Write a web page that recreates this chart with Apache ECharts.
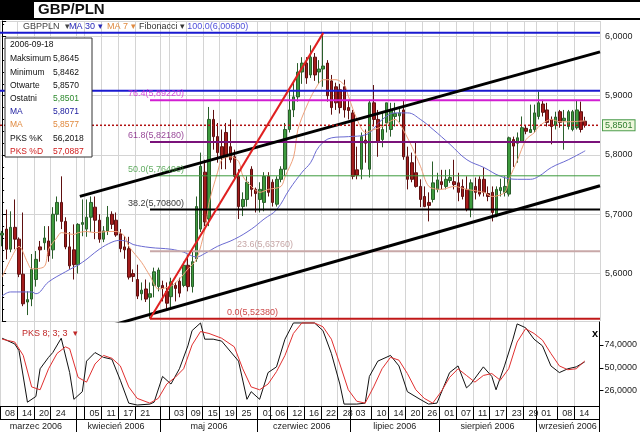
<!DOCTYPE html>
<html><head><meta charset="utf-8">
<script src="https://cdn.jsdelivr.net/npm/echarts@6/dist/echarts.min.js"></script>
<style>html,body{margin:0;padding:0;background:#fff}#c{width:640px;height:432px}</style>
</head><body><div id="c"></div>
<script>
// ---------- DATA ----------
const firstDay = '2006-03-08';
const nCategories = 142;
const categories = [];
(function(){const d=new Date(firstDay+'T00:00:00Z');while(categories.length<nCategories){const w=d.getUTCDay();if(w!==0&&w!==6)categories.push(d.toISOString().slice(0,10));d.setUTCDate(d.getUTCDate()+1);}})();

const openP = [5.665,5.675,5.641,5.678,5.658,5.599,5.552,5.557,5.590,5.645,
5.652,5.655,5.640,5.700,5.720,5.688,5.645,5.640,5.615,5.683,
5.675,5.695,5.712,5.690,5.658,5.672,5.700,5.690,5.667,5.645,
5.642,5.600,5.590,5.566,5.574,5.560,5.580,5.578,5.580,5.570,
5.561,5.580,5.587,5.580,5.614,5.578,5.625,5.675,5.771,5.692,
5.860,5.831,5.814,5.838,5.814,5.797,5.764,5.713,5.725,5.776,
5.742,5.725,5.720,5.764,5.754,5.717,5.759,5.776,5.843,5.876,
5.898,5.940,5.955,5.935,5.965,5.940,5.945,5.955,5.925,5.915,
5.910,5.915,5.880,5.871,5.775,5.776,5.825,5.776,5.888,5.860,
5.826,5.854,5.843,5.865,5.866,5.876,5.797,5.787,5.770,5.747,
5.730,5.720,5.725,5.742,5.755,5.747,5.757,5.755,5.753,5.747,
5.742,5.708,5.747,5.759,5.759,5.735,5.737,5.697,5.740,5.737,
5.734,5.826,5.820,5.823,5.845,5.838,5.843,5.865,5.886,5.876,
5.860,5.850,5.873,5.858,5.848,5.843,5.846,5.873,5.8570];
const highP = [5.672,5.708,5.705,5.725,5.661,5.703,5.570,5.633,5.638,5.655,
5.680,5.680,5.712,5.730,5.764,5.695,5.670,5.683,5.685,5.725,
5.725,5.730,5.730,5.700,5.680,5.714,5.705,5.703,5.675,5.663,
5.662,5.607,5.615,5.585,5.590,5.585,5.610,5.610,5.588,5.585,
5.593,5.585,5.593,5.620,5.632,5.637,5.730,5.804,5.792,5.881,
5.876,5.854,5.843,5.854,5.860,5.809,5.776,5.737,5.764,5.781,
5.745,5.754,5.771,5.771,5.759,5.764,5.781,5.854,5.910,5.924,
5.955,5.965,5.965,5.985,5.972,5.960,6.006,5.960,5.935,5.922,
5.920,5.927,5.893,5.876,5.814,5.838,5.843,5.893,5.918,5.876,
5.871,5.888,5.888,5.888,5.881,5.893,5.814,5.804,5.821,5.759,
5.747,5.737,5.789,5.770,5.775,5.775,5.776,5.792,5.770,5.759,
5.764,5.759,5.762,5.764,5.779,5.747,5.747,5.747,5.760,5.764,
5.831,5.831,5.838,5.865,5.850,5.885,5.885,5.907,5.893,5.888,
5.865,5.873,5.876,5.876,5.876,5.876,5.893,5.890,5.8645];
const lowP = [5.646,5.624,5.636,5.641,5.594,5.545,5.530,5.545,5.578,5.620,
5.640,5.620,5.625,5.688,5.675,5.641,5.608,5.590,5.600,5.663,
5.662,5.670,5.658,5.652,5.653,5.665,5.675,5.662,5.636,5.625,
5.590,5.586,5.557,5.555,5.552,5.524,5.560,5.570,5.553,5.537,
5.543,5.553,5.560,5.577,5.570,5.568,5.620,5.670,5.680,5.680,
5.809,5.787,5.776,5.776,5.787,5.759,5.692,5.697,5.713,5.730,
5.703,5.703,5.705,5.730,5.713,5.713,5.754,5.765,5.838,5.864,
5.890,5.920,5.920,5.930,5.925,5.920,5.915,5.890,5.868,5.876,
5.870,5.863,5.860,5.759,5.759,5.759,5.787,5.762,5.848,5.797,
5.813,5.838,5.831,5.848,5.855,5.792,5.742,5.754,5.745,5.712,
5.712,5.688,5.720,5.737,5.742,5.742,5.753,5.742,5.722,5.725,
5.705,5.695,5.725,5.730,5.730,5.722,5.688,5.695,5.730,5.730,
5.730,5.780,5.787,5.821,5.835,5.838,5.838,5.860,5.865,5.848,
5.818,5.843,5.846,5.809,5.843,5.840,5.843,5.838,5.8462];
const closeP = [5.668,5.641,5.678,5.658,5.599,5.549,5.556,5.607,5.624,5.640,
5.660,5.630,5.700,5.720,5.688,5.645,5.613,5.615,5.683,5.686,
5.695,5.720,5.690,5.658,5.672,5.695,5.683,5.665,5.642,5.640,
5.594,5.595,5.562,5.572,5.557,5.566,5.603,5.606,5.575,5.550,
5.586,5.575,5.567,5.614,5.578,5.620,5.713,5.781,5.687,5.860,
5.831,5.804,5.797,5.797,5.792,5.764,5.713,5.725,5.754,5.742,
5.735,5.742,5.764,5.737,5.720,5.759,5.776,5.843,5.876,5.898,
5.940,5.955,5.930,5.965,5.935,5.945,5.950,5.900,5.880,5.888,
5.880,5.876,5.875,5.764,5.766,5.831,5.820,5.888,5.860,5.823,
5.843,5.888,5.876,5.870,5.871,5.797,5.759,5.759,5.747,5.725,
5.713,5.715,5.753,5.758,5.750,5.759,5.762,5.750,5.737,5.730,
5.708,5.753,5.737,5.734,5.737,5.730,5.703,5.742,5.745,5.747,
5.829,5.815,5.829,5.846,5.840,5.843,5.871,5.888,5.872,5.855,
5.848,5.864,5.855,5.862,5.873,5.873,5.876,5.843,5.8501];

// moving averages: [category index, value]
const ma30 = [[0,5.562],[2,5.569],[7,5.569],[8,5.566],[11,5.586],[15,5.603],[19,5.619],[23,5.641],[26,5.653],[28,5.656],[30,5.653],[31,5.649],[35,5.644],[40,5.641],[43,5.636],[46,5.628],[48,5.634],[51,5.646],[55,5.658],[59,5.675],[62,5.692],[65,5.708],[68,5.742],[71,5.771],[73,5.787],[75,5.814],[78,5.829],[82,5.831],[86,5.834],[90,5.860],[93,5.871],[96,5.871],[99,5.860],[102,5.843],[106,5.818],[110,5.792],[114,5.779],[118,5.764],[122,5.759],[125,5.759],[127,5.764],[130,5.779],[134,5.792],[138,5.8071]];
const ma7 = [[0,5.594],[2,5.624],[4,5.646],[6,5.619],[7,5.608],[10,5.612],[11,5.641],[13,5.661],[14,5.669],[17,5.666],[18,5.669],[20,5.671],[22,5.669],[25,5.671],[27,5.671],[29,5.663],[30,5.646],[33,5.619],[35,5.596],[37,5.574],[40,5.579],[42,5.591],[44,5.608],[46,5.624],[48,5.675],[49,5.720],[51,5.771],[52,5.792],[54,5.797],[56,5.789],[57,5.764],[59,5.747],[61,5.737],[63,5.742],[66,5.747],[67,5.764],[69,5.797],[70,5.843],[72,5.881],[74,5.910],[76,5.927],[79,5.927],[81,5.918],[82,5.898],[84,5.860],[86,5.838],[88,5.843],[90,5.848],[93,5.860],[94,5.854],[97,5.814],[99,5.781],[101,5.747],[104,5.742],[107,5.747],[110,5.742],[114,5.737],[116,5.730],[119,5.737],[120,5.759],[122,5.792],[124,5.826],[126,5.838],[127,5.848],[130,5.860],[132,5.856],[134,5.856],[138,5.8577]];

// stochastic (PKS 8;3;3)
const pksK = [[0,81],[3,75],[4,68],[6,14],[8,20],[9,49],[11,61],[12,66],[14,81],[16,45],[17,17],[19,25],[20,57],[22,66],[24,61],[26,59],[28,37],[30,13],[32,11],[35,12],[36,14],[38,41],[40,33],[42,49],[44,73],[45,89],[47,97],[48,80],[50,80],[52,78],[56,57],[58,17],[59,25],[61,17],[63,45],[65,51],[67,80],[69,97],[71,97],[74,97],[76,89],[78,65],[80,33],[81,12],[84,12],[86,13],[87,41],[89,57],[92,63],[94,52],[96,25],[99,17],[101,12],[103,13],[106,45],[108,52],[110,29],[111,33],[114,51],[116,41],[117,27],[119,52],[121,80],[122,96],[124,92],[126,80],[128,73],[130,52],[132,45],[134,49],[136,51],[138,56.2018]];
const pksD = [[0,80],[3,77],[5,63],[7,30],[9,27],[11,49],[13,65],[15,72],[16,70],[18,40],[20,35],[22,54],[24,63],[26,60],[28,52],[30,30],[32,18],[35,13],[37,18],[39,33],[41,40],[43,49],[45,74],[47,88],[49,86],[52,81],[55,72],[57,49],[59,30],[61,27],[63,33],[65,46],[67,63],[69,86],[71,97],[74,97],[76,93],[78,80],[80,54],[82,27],[84,15],[86,13],[88,30],[90,49],[92,61],[94,58],[96,44],[98,27],[100,18],[102,13],[104,25],[106,40],[108,49],[110,42],[112,35],[114,42],[116,44],[118,37],[120,49],[122,77],[124,91],[126,86],[128,79],[130,65],[132,52],[134,48],[136,49],[138,57.0887]];

// Fibonacci retracement
const fibLevels = [100.0, 76.4, 61.8, 50.0, 38.2, 23.6, 0.0];
const fibValues = [6.0060, 5.8922, 5.8218, 5.7649, 5.7080, 5.6376, 5.5238];
const fibLowIdx = 35, fibHighIdx = 76;
// other drawn lines: [[x0,y0],[x1,y1]] in (category index, price)
const upperChannel = [[18.4, 5.7302], [141.5, 5.9739]];
const lowerChannel = [[26.7, 5.5143], [141.5, 5.7481]];
const resistance = 5.9084;

const dayTickDates = ['2006-03-08','2006-03-14','2006-03-20','2006-03-24','2006-04-05','2006-04-11','2006-04-17','2006-04-21','2006-05-03','2006-05-09','2006-05-15','2006-05-19','2006-05-25','2006-06-01','2006-06-06','2006-06-12','2006-06-16','2006-06-22','2006-06-28','2006-07-03','2006-07-10','2006-07-14','2006-07-20','2006-07-26','2006-08-01','2006-08-07','2006-08-11','2006-08-17','2006-08-23','2006-08-29','2006-09-01','2006-09-08','2006-09-14'];
const monthNames = ['marzec 2006','kwiecień 2006','maj 2006','czerwiec 2006','lipiec 2006','sierpień 2006','wrzesień 2006'];
const priceTicks = [5.6, 5.7, 5.8, 5.9, 6.0];
const pksTicks = [26, 50, 74];

// ---------- BUILD ----------
const last = closeP.length - 1;
const fmt = (v, d) => v.toFixed(d).replace('.', ',');
const ohlc = openP.map((o, i) => [o, closeP[i], lowP[i], highP[i]]);
const dayIdx = new Set(dayTickDates.map(d => categories.indexOf(d)));
const monthStart = new Set(); const monthMid = {};
(function(){let cur=null, s=0; const ranges=[];
 categories.forEach((c,i)=>{const m=c.slice(0,7); if(m!==cur){ if(cur!==null) ranges.push([s,i-1]); cur=m; s=i; if(i>0) monthStart.add(i);} });
 ranges.push([s,categories.length-1]);
 ranges.forEach((r,j)=>{monthMid[Math.floor((r[0]+r[1])/2)] = monthNames[j];});
})();
const sepIdx = new Set([...dayIdx, ...monthStart]);

const fibStyle = [
  {color:'#1a1ad0', width:2, from:-0.5},
  {color:'#d21ed2', width:2, from:fibLowIdx},
  {color:'#7a127a', width:2, from:fibLowIdx},
  {color:'#3c9a3c', width:1, from:fibLowIdx},
  {color:'#000000', width:2, from:fibLowIdx},
  {color:'#c8a8a8', width:2, from:fibLowIdx},
  {color:'#c01818', width:2, from:fibLowIdx}
];
const fibLabelAnchor = [[43.8,6.016],[29.8,5.9035],[29.8,5.8328],[29.8,5.7759],[29.8,5.7190],[55.6,5.6486],[53.2,5.5348]];
const fibLabelColor = ['#1a1ad0','#d21ed2','#7a127a','#3c9a3c','#000000','#b89090','#c01818'];

const series = [
  {type:'candlestick', xAxisIndex:0, yAxisIndex:0, data:ohlc, barWidth:3,
   itemStyle:{color:'#3e9b3e', color0:'#a31c1c', borderColor:'#2a5e2a', borderColor0:'#5e1010', borderWidth:1}},
  {type:'line', xAxisIndex:0, yAxisIndex:0, data:ma30, smooth:0.4, symbol:'none', lineStyle:{color:'#6a6ad2', width:1}},
  {type:'line', xAxisIndex:0, yAxisIndex:0, data:ma7, smooth:0.3, symbol:'none', lineStyle:{color:'#eea07a', width:1}}
];
fibValues.forEach((v, i) => {
  series.push({type:'line', xAxisIndex:2, yAxisIndex:0, symbol:'none', silent:true,
    data:[[fibStyle[i].from, v],[141.5, v]], lineStyle:{color:fibStyle[i].color, width:fibStyle[i].width}});
});
series.push({type:'line', xAxisIndex:2, yAxisIndex:0, symbol:'none', data:[[-0.5,resistance],[141.5,resistance]], lineStyle:{color:'#1a1ad0', width:2}});
series.push({type:'line', xAxisIndex:2, yAxisIndex:0, symbol:'none', data:upperChannel, lineStyle:{color:'#000', width:3}});
series.push({type:'line', xAxisIndex:2, yAxisIndex:0, symbol:'none', data:lowerChannel, lineStyle:{color:'#000', width:3}});
series.push({type:'line', xAxisIndex:2, yAxisIndex:0, symbol:'none', data:[[fibLowIdx, fibValues[6]],[fibHighIdx, fibValues[0]]], lineStyle:{color:'#e02020', width:2}});
series.push({type:'line', xAxisIndex:2, yAxisIndex:0, symbol:'none', data:[[-0.5, closeP[last]],[141.5, closeP[last]]],
  lineStyle:{color:'#b01010', width:1.5, type:[2,2]},
  endLabel:{show:true, formatter:()=>fmt(closeP[last],4), color:'#2e7d2e', backgroundColor:'#eef7dc', borderColor:'#4a9a4a', borderWidth:1, padding:[1,2,0,2], fontSize:9, distance:3}});
series.push({type:'scatter', xAxisIndex:2, yAxisIndex:0, symbolSize:0, silent:true, z:5,
  data: fibLevels.map((l,i)=>({value:fibLabelAnchor[i], name: l.toFixed(1)+'('+fmt(fibValues[i],5)+')',
     label:{color:fibLabelColor[i]}})),
  label:{show:true, position:'right', distance:0, fontSize:9, formatter:p=>p.name}});
series.push({type:'line', xAxisIndex:1, yAxisIndex:1, data:pksK, symbol:'none', lineStyle:{color:'#111', width:1}});
series.push({type:'line', xAxisIndex:1, yAxisIndex:1, data:pksD, symbol:'none', lineStyle:{color:'#e03030', width:1}});

const gridLine = {show:true, lineStyle:{color:'#d4d4d4', width:1}};
const font = 'Liberation Sans, Arial, sans-serif';
const infoRows = [
  ['Maksimum', fmt(highP[last],4), '#111', '#111'],
  ['Minimum', fmt(lowP[last],4), '#111', '#111'],
  ['Otwarte', fmt(openP[last],4), '#111', '#111'],
  ['Ostatni', fmt(closeP[last],4), '#111', '#2e8a2e'],
  ['MA', fmt(ma30[ma30.length-1][1],4), '#2020a0', '#2020a0'],
  ['MA', fmt(ma7[ma7.length-1][1],4), '#e08a40', '#e08a40'],
  ['PKS %K', fmt(pksK[pksK.length-1][1],4), '#111', '#111'],
  ['PKS %D', fmt(pksD[pksD.length-1][1],4), '#d02020', '#d02020']
];
const Z = 100;
const graphics = [
  {type:'rect', z:Z, shape:{x:0,y:0,width:640,height:20}, style:{fill:'#000'}},
  {type:'rect', z:Z, shape:{x:34,y:2,width:606,height:16}, style:{fill:'#fff'}},
  {type:'text', z:Z, x:38, y:10, style:{text:'GBP/PLN', font:'bold 15px '+font, fill:'#111', verticalAlign:'middle'}},
  {type:'text', z:Z, x:23, y:27, style:{text:'GBPPLN  \u25BE', font:'9px '+font, fill:'#444', verticalAlign:'middle'}},
  {type:'text', z:Z, x:69, y:27, style:{text:'MA 30 \u25BE', font:'9px '+font, fill:'#2828b8', verticalAlign:'middle'}},
  {type:'text', z:Z, x:107, y:27, style:{text:'MA 7 \u25BE', font:'9px '+font, fill:'#e08a40', verticalAlign:'middle'}},
  {type:'text', z:Z, x:139, y:27, style:{text:'Fibonacci \u25BE', font:'9px '+font, fill:'#333', verticalAlign:'middle'}},
  {type:'rect', z:Z, shape:{x:5,y:38,width:87,height:119}, style:{fill:'#fff', stroke:'#333', lineWidth:1}},
  {type:'text', z:Z+1, x:10, y:45, style:{text:categories[last], font:'8.5px '+font, fill:'#111', verticalAlign:'middle'}},
  {type:'text', z:Z, x:22, y:334, style:{text:'PKS 8; 3; 3  \u25BE', font:'9px '+font, fill:'#c02828', verticalAlign:'middle'}},
  {type:'text', z:Z, x:592, y:334, style:{text:'x', font:'bold 11px '+font, fill:'#000', verticalAlign:'middle'}}
];
infoRows.forEach((r, i) => {
  const y = 59 + i*13.2;
  graphics.push({type:'text', z:Z+1, x:10, y:y, style:{text:r[0], font:'8.5px '+font, fill:r[2], verticalAlign:'middle'}});
  graphics.push({type:'text', z:Z+1, x:53, y:y, style:{text:r[1], font:'8.5px '+font, fill:r[3], verticalAlign:'middle'}});
});

const option = {
  animation:false,
  backgroundColor:'#fff',
  textStyle:{fontFamily:font},
  grid:[{left:0, right:40, top:21, height:300}, {left:0, right:40, top:322, height:84}],
  xAxis:[
    {type:'category', gridIndex:0, data:categories, boundaryGap:true, axisLine:{show:false}, axisTick:{show:false}, axisLabel:{show:false},
     splitLine:Object.assign({interval:(i)=>sepIdx.has(i)}, gridLine)},
    {type:'category', gridIndex:1, data:categories, boundaryGap:true, position:'bottom',
     axisLine:{show:true, lineStyle:{color:'#000'}},
     axisTick:{show:true, interval:(i)=>sepIdx.has(i), length:13, lineStyle:{color:'#000'}},
     axisLabel:{interval:(i)=>dayIdx.has(i), formatter:(v)=>v.slice(8), align:'left', margin:3, fontSize:9, color:'#222', padding:[0,0,0,3]},
     splitLine:Object.assign({interval:(i)=>sepIdx.has(i)}, gridLine)},
    {type:'value', gridIndex:0, min:-0.5, max:141.5, show:false},
    {type:'category', gridIndex:1, data:categories, boundaryGap:true, position:'bottom', offset:13,
     axisLine:{show:true, lineStyle:{color:'#000'}},
     axisTick:{show:true, interval:(i)=>monthStart.has(i), length:13, lineStyle:{color:'#000'}},
     axisLabel:{interval:(i)=>monthMid[i]!==undefined, formatter:(v,i)=>monthMid[i]||'', align:'center', margin:3, fontSize:9, color:'#222'},
     splitLine:{show:false}}
  ],
  yAxis:[
    {type:'value', gridIndex:0, position:'right', min:5.52, max:6.026, splitNumber:5, scale:true,
     axisLine:{show:true, lineStyle:{color:'#000'}},
     axisTick:{show:true, length:4, lineStyle:{color:'#000'}},
     minorTick:{show:true, splitNumber:5, length:2, lineStyle:{color:'#000'}},
     axisLabel:{formatter:(v)=>priceTicks.some(t=>Math.abs(t-v)<1e-6)?fmt(v,4):'', fontSize:9, color:'#222', margin:5, showMinLabel:false, showMaxLabel:false},
     splitLine:gridLine},
    {type:'value', gridIndex:1, position:'right', min:10, max:98,
     axisLine:{show:true, lineStyle:{color:'#000'}},
     axisTick:{show:true, length:4, customValues:pksTicks, lineStyle:{color:'#000'}},
     axisLabel:{customValues:pksTicks, formatter:(v)=>fmt(v,4), fontSize:9, color:'#222', margin:5},
     splitLine:{show:false}}
  ],
  series:series,
  graphic:{elements:graphics}
};
const chart = echarts.init(document.getElementById('c'), null, {renderer:'canvas'});
chart.setOption(option);
</script></body></html>
